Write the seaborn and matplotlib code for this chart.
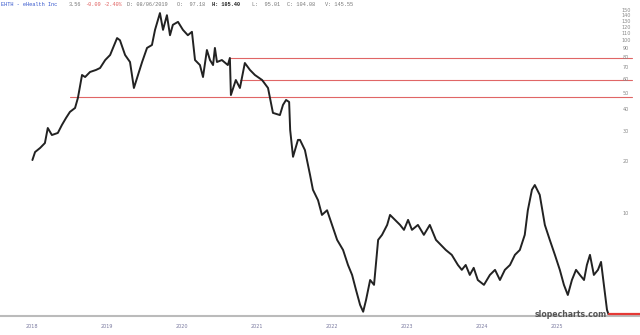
import matplotlib
matplotlib.use("Agg")
import matplotlib.pyplot as plt
import matplotlib.transforms as mtransforms
import seaborn as sns
import pandas as pd
import numpy as np

dates = ["2018-01-02","2018-01-15","2018-02-09","2018-03-04","2018-03-18","2018-04-07","2018-05-06",
         "2018-05-26","2018-06-15","2018-07-04","2018-07-29","2018-08-12","2018-09-01","2018-09-16",
         "2018-10-10","2018-11-08","2018-11-28","2018-12-23","2019-01-16","2019-02-19","2019-03-05",
         "2019-03-30","2019-04-23","2019-05-12","2019-06-01","2019-06-21","2019-07-15","2019-08-08",
         "2019-08-23","2019-09-16","2019-10-01","2019-10-20","2019-11-04","2019-11-18","2019-12-13",
         "2020-01-06","2020-01-30","2020-02-19","2020-03-05","2020-03-29","2020-04-13","2020-05-02",
         "2020-05-17","2020-06-01","2020-06-10","2020-06-20","2020-07-14","2020-08-12","2020-08-22",
         "2020-08-27","2020-09-20","2020-10-10","2020-11-03","2020-11-28","2020-12-22","2021-01-26",
         "2021-02-24","2021-03-20","2021-04-23","2021-05-08","2021-05-23","2021-06-07","2021-06-12",
         "2021-06-26","2021-07-20","2021-07-30","2021-08-23","2021-09-17","2021-10-01","2021-10-26",
         "2021-11-14","2021-12-09","2022-01-02","2022-01-27","2022-02-25","2022-03-21","2022-04-10",
         "2022-04-29","2022-05-19","2022-06-03","2022-06-17","2022-07-07","2022-07-26","2022-08-15",
         "2022-09-03","2022-09-28","2022-10-12","2022-11-05","2022-11-30","2022-12-19","2023-01-08",
         "2023-01-27","2023-02-25","2023-03-26","2023-04-24","2023-05-24","2023-06-17","2023-07-11",
         "2023-08-09","2023-09-08","2023-09-27","2023-10-16","2023-11-05","2023-11-24","2023-12-14",
         "2024-01-13","2024-02-11","2024-03-07","2024-03-31","2024-04-24","2024-05-19","2024-06-12",
         "2024-07-06","2024-07-30","2024-08-14","2024-09-03","2024-09-17","2024-10-11","2024-11-05",
         "2024-11-29","2024-12-24","2025-01-17","2025-02-06","2025-02-25","2025-03-17","2025-04-06",
         "2025-04-25","2025-05-15","2025-05-29","2025-06-13","2025-07-02","2025-07-22","2025-08-06",
         "2025-08-20","2025-09-04","2025-09-14"]
prices = [20.5,22.8,24.1,25.7,31.4,28.6,29.4,
          32.7,35.9,38.9,41.0,46.9,63.6,61.9,
          66.2,68.0,69.8,77.6,83.0,104,101,
          83.0,75.6,53.5,63.6,75.6,91.2,94.8,
          116,145,116,141,108,124,129,
          116,108,113,77.6,72.6,61.9,88.7,
          77.6,72.6,91.2,75.6,77.6,72.6,79.8,
          48.7,59.5,53.5,74.6,68.0,63.6,59.5,
          53.5,38.4,37.3,42.7,45.6,44.4,30.6,
          21.4,26.8,26.8,23.4,16.8,13.8,12.0,
          9.87,10.5,8.64,7.08,6.19,5.07,4.44,
          3.64,2.98,2.72,3.18,4.15,3.89,7.08,
          7.57,8.64,9.87,9.24,8.64,8.09,9.24,
          8.09,8.64,7.57,8.64,7.08,6.62,6.19,
          5.80,5.07,4.75,5.07,4.44,4.88,4.15,
          3.89,4.44,4.75,4.15,4.75,5.07,5.80,
          6.19,7.57,10.5,13.8,14.7,12.9,8.64,
          7.08,5.80,4.75,3.89,3.40,4.15,4.75,
          4.44,4.15,5.07,5.80,4.44,4.75,5.28,
          3.89,2.79,2.57]

level_values = [79.8, 59.5, 47.5]
level_starts = ["2020-08-25", "2020-10-10", "2018-07-04"]
last_level = 2.64
last_level_start = "2025-09-14"

ytick_values = [10, 20, 30, 40, 50, 60, 70, 80, 90, 100, 110, 120, 130, 140, 150]
year_labels = ["2018", "2019", "2020", "2021", "2022", "2023", "2024", "2025"]

header_parts = ["EHTH - eHealth Inc", "3.56", "-0.09", "-2.40%", "D: 08/06/2019", "O:  97.18",
                "H: 105.40", "L:  95.01", "C: 104.08", "V: 145.55"]

sns.set_theme(style="white")
plt.rcParams['font.family'] = ['DejaVu Sans']

df = pd.DataFrame({"date": pd.to_datetime(dates), "price": prices})

fig = plt.figure(figsize=(6.4, 3.35), dpi=100)
ax = fig.add_axes([0, 19/335, 1, 316/335])

sns.lineplot(data=df, x="date", y="price", ax=ax, color="#222222", linewidth=1.4)

ax.set_yscale("log")
ax.set_ylim(2.57, 172.6)
xmin = pd.Timestamp("2017-07-28")
xmax = pd.Timestamp("2026-02-12")
ax.set_xlim(xmin, xmax)
line_end = pd.Timestamp("2026-01-04")

for v, s in zip(level_values, level_starts):
    ax.plot([pd.Timestamp(s), line_end], [v, v], color="#e06666", linewidth=0.8, zorder=1)
ax.plot([pd.Timestamp(last_level_start), xmax], [last_level, last_level], color="#e53935", linewidth=1.6, zorder=3)

for sp in ["top", "left", "right"]:
    ax.spines[sp].set_visible(False)
ax.spines["bottom"].set_color("#bbbbbb")
ax.spines["bottom"].set_linewidth(1.5)
ax.set_xlabel("")
ax.set_ylabel("")
ax.set_yticks([])
ax.set_yticks([], minor=True)
ax.set_xticks([pd.Timestamp(f"{y}-01-01") for y in year_labels])
ax.set_xticklabels(year_labels, fontsize=3.5, color="#7a7aa0")
ax.tick_params(axis="x", length=0, pad=6)
ax.minorticks_off()

ytr = mtransforms.blended_transform_factory(ax.transAxes, ax.transData)
for v in ytick_values:
    ax.text(626/640, v, str(v), transform=ytr, fontsize=3.5, color="#888888",
            ha="center", va="center")

# header
hx = [1, 69, 85, 103, 127, 177, 212, 252, 287, 325]
hcol = ["#3355cc", "#777777", "#e06060", "#e06060", "#777777", "#777777", "#222222",
        "#777777", "#777777", "#777777"]
for i, (part, x, c) in enumerate(zip(header_parts, hx, hcol)):
    fig.text(x / 640, 1 - 2.5 / 335, part, fontsize=3.8, color=c, va="top", ha="left",
             family="Liberation Mono", fontweight="bold" if i == 6 else "normal")

fig.text(607 / 640, 16 / 335, "slopecharts.com", fontsize=5.6, color="#555555",
         ha="right", va="bottom", fontweight="bold")

fig.savefig("out.png", dpi=100)
